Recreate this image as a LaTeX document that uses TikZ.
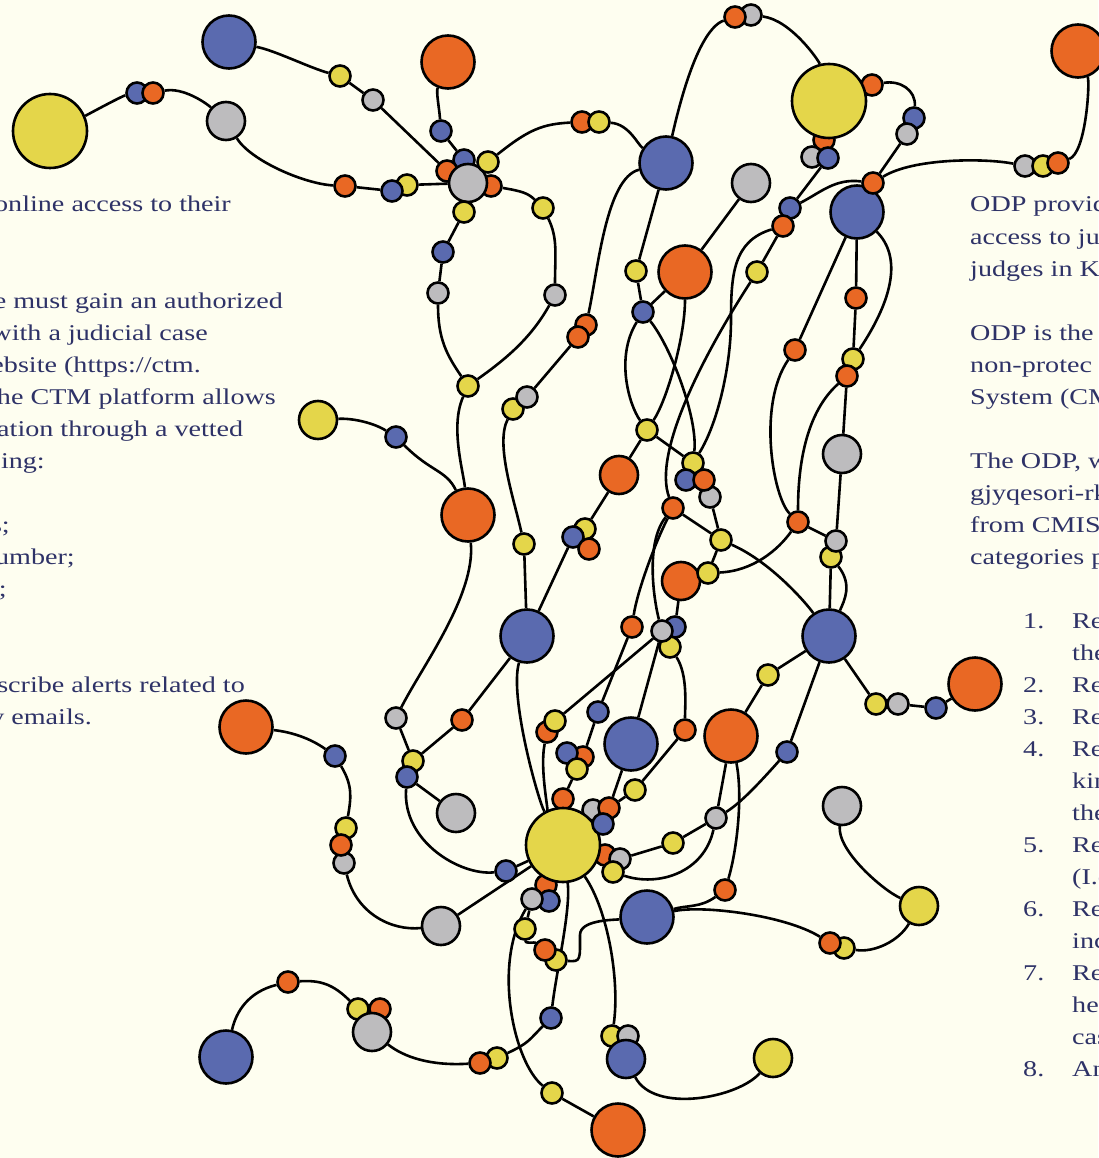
\documentclass[tikz,border=0pt]{standalone}
\usepackage{fontspec}
\setmainfont{Liberation Serif}[FakeStretch=1.25]
\definecolor{bgc}{HTML}{FEFEF0}
\definecolor{cblue}{HTML}{5A6AAF}
\definecolor{corange}{HTML}{E96824}
\definecolor{cyellow}{HTML}{E4D64A}
\definecolor{cgray}{HTML}{BDBCBE}
\definecolor{ctext}{HTML}{2E3267}
\pgfdeclarelayer{bgl}
\pgfsetlayers{bgl,main}
\begin{document}
\begin{tikzpicture}[x=1pt,y=-1pt,
 nd/.style={circle,draw=black,line width=2.6pt,inner sep=0pt},
 sS/.style={nd,minimum size=21pt},
 sM/.style={nd,minimum size=38pt},
 sL/.style={nd,minimum size=53pt},
 sH/.style={nd,minimum size=74pt},
 cB/.style={fill=cblue}, cO/.style={fill=corange},
 cY/.style={fill=cyellow}, cG/.style={fill=cgray},
 ed/.style={draw=black,line width=2.6pt},
 tl/.style={font=\fontsize{22.5}{32}\selectfont,text=ctext,inner sep=0pt}]
\useasboundingbox (0,0) rectangle (1098,1158);
% ---------------- nodes
\node[sH,cY] (Y1) at (50,131) {};
\node[sS,cB] (b1) at (137,93) {};
\node[sS,cO] (o1) at (153,93) {};
\node[sL,cB] (B1) at (229,42) {};
\node[sM,cG] (G1) at (226,121) {};
\node[sS,cY] (y1) at (340,76) {};
\node[sS,cG] (g1) at (373,100) {};
\node[sL,cO] (O1) at (448,62) {};
\node[sS,cB] (b2) at (441,131) {};
\node[sS,cB] (b3) at (464,160) {};
\node[sS,cO] (o2) at (447,171) {};
\node[sS,cO] (o3) at (491,186) {};
\node[sM,cG] (G2) at (468,183) {};
\node[sS,cY] (y2) at (488,162) {};
\node[sS,cY] (y3) at (464,212) {};
\node[sS,cB] (b4) at (443,252) {};
\node[sS,cG] (g2) at (438,293) {};
\node[sS,cO] (o4) at (345,186) {};
\node[sS,cY] (y4) at (407,185) {};
\node[sS,cB] (b5) at (392,191) {};
\node[sS,cY] (y5) at (543,208) {};
\node[sS,cG] (g3) at (555,295) {};
\node[sS,cO] (o5) at (582,122) {};
\node[sS,cY] (y6) at (599,122) {};
\node[sL,cB] (B2) at (666,163) {};
\node[sS,cG] (g4) at (751,15) {};
\node[sS,cO] (o6) at (735,17) {};
\node[sS,cO] (o8) at (824,140) {};
\node[sS,cO] (o7) at (872,85) {};
\node[sH,cY] (Y2) at (829,101) {};
\node[sS,cG] (g5) at (812,157) {};
\node[sS,cB] (b6) at (828,158) {};
\node[sS,cB] (b7) at (914,118) {};
\node[sS,cG] (g6) at (907,134) {};
\node[sM,cG] (G3) at (751,183) {};
\node[sS,cG] (g7) at (1025,166) {};
\node[sS,cY] (y7) at (1043,166) {};
\node[sS,cO] (o9) at (1058,163) {};
\node[sL,cO] (O2) at (1078,51) {};
\node[sL,cB] (B3) at (857,212) {};
\node[sS,cO] (o10) at (873,183) {};
\node[sS,cB] (b8) at (790,208) {};
\node[sS,cO] (o11) at (783,226) {};
\node[sS,cY] (y8) at (757,272) {};
\node[sL,cO] (O3) at (685,272) {};
\node[sS,cY] (y9) at (636,271) {};
\node[sS,cB] (b9) at (643,312) {};
\node[sS,cO] (o12) at (856,298) {};
\node[sS,cO] (o13) at (795,350) {};
\node[sS,cY] (y10) at (853,359) {};
\node[sS,cO] (o14) at (847,376) {};
\node[sS,cO] (o15) at (586,325) {};
\node[sS,cO] (o16) at (578,337) {};
\node[sS,cY] (y11) at (513,409) {};
\node[sS,cG] (g8) at (527,397) {};
\node[sS,cY] (y12) at (468,386) {};
\node[sM,cY] (Y3) at (318,420) {};
\node[sS,cB] (b10) at (396,437) {};
\node[sS,cY] (y13) at (647,430) {};
\node[sM,cO] (O4) at (619,475) {};
\node[sM,cG] (G4) at (842,454) {};
\node[sS,cY] (y14) at (693,463) {};
\node[sS,cG] (g9) at (710,497) {};
\node[sS,cB] (b11) at (686,480) {};
\node[sS,cO] (o17) at (704,480) {};
\node[sL,cO] (O5) at (468,515) {};
\node[sS,cO] (o18) at (673,508) {};
\node[sS,cY] (y15) at (721,540) {};
\node[sS,cO] (o19) at (798,522) {};
\node[sS,cY] (y16) at (831,557) {};
\node[sS,cG] (g10) at (836,541) {};
\node[sS,cY] (y17) at (524,544) {};
\node[sS,cY] (y18) at (585,529) {};
\node[sS,cB] (b12) at (573,537) {};
\node[sS,cO] (o20) at (589,549) {};
\node[sM,cO] (O6) at (681,581) {};
\node[sS,cY] (y19) at (708,573) {};
\node[sL,cB] (B4) at (527,636) {};
\node[sL,cB] (B5) at (829,636) {};
\node[sS,cO] (o21) at (632,627) {};
\node[sS,cB] (b13) at (675,627) {};
\node[sS,cY] (y20) at (670,647) {};
\node[sS,cG] (g11) at (662,631) {};
\node[sS,cY] (y21) at (768,675) {};
\node[sS,cY] (y22) at (876,704) {};
\node[sS,cG] (g12) at (898,704) {};
\node[sS,cB] (b14) at (936,708) {};
\node[sL,cO] (O7) at (975,684) {};
\node[sL,cO] (O8) at (246,727) {};
\node[sS,cB] (b15) at (335,756) {};
\node[sS,cG] (g13) at (396,718) {};
\node[sS,cO] (o22) at (462,720) {};
\node[sS,cO] (o23) at (547,732) {};
\node[sS,cY] (y23) at (555,721) {};
\node[sS,cB] (b16) at (598,712) {};
\node[sL,cB] (B6) at (631,744) {};
\node[sL,cO] (O9) at (731,736) {};
\node[sS,cO] (o24) at (685,730) {};
\node[sS,cY] (y24) at (413,761) {};
\node[sS,cB] (b17) at (407,777) {};
\node[sS,cO] (o25) at (583,757) {};
\node[sS,cB] (b18) at (567,753) {};
\node[sS,cY] (y25) at (577,769) {};
\node[sS,cB] (b19) at (787,752) {};
\node[sS,cG] (g14) at (344,863) {};
\node[sS,cY] (y26) at (346,828) {};
\node[sS,cO] (o26) at (341,845) {};
\node[sM,cG] (G5) at (456,813) {};
\node[sS,cO] (o27) at (563,799) {};
\node[sS,cG] (g15) at (593,810) {};
\node[sS,cO] (o29) at (605,855) {};
\node[sS,cO] (o30) at (546,885) {};
\node[sH,cY] (Y4) at (563,845) {};
\node[sS,cO] (o28) at (609,808) {};
\node[sS,cB] (b20) at (603,824) {};
\node[sS,cG] (g17) at (620,859) {};
\node[sS,cY] (y29) at (613,872) {};
\node[sS,cB] (b22) at (549,901) {};
\node[sS,cG] (g18) at (532,899) {};
\node[sS,cY] (y27) at (635,790) {};
\node[sM,cG] (G6) at (842,806) {};
\node[sS,cG] (g16) at (716,818) {};
\node[sS,cY] (y28) at (673,843) {};
\node[sS,cB] (b21) at (506,871) {};
\node[sS,cY] (y30) at (525,929) {};
\node[sS,cY] (y31) at (556,960) {};
\node[sS,cO] (o31) at (545,950) {};
\node[sM,cG] (G7) at (441,926) {};
\node[sL,cB] (B7) at (647,917) {};
\node[sS,cO] (o32) at (725,890) {};
\node[sM,cY] (Y5) at (919,906) {};
\node[sS,cY] (y32) at (844,948) {};
\node[sS,cO] (o33) at (830,943) {};
\node[sS,cO] (o34) at (288,982) {};
\node[sS,cY] (y33) at (358,1009) {};
\node[sS,cO] (o35) at (380,1009) {};
\node[sM,cG] (G8) at (372,1032) {};
\node[sL,cB] (B8) at (226,1057) {};
\node[sS,cY] (y34) at (497,1058) {};
\node[sS,cO] (o36) at (480,1063) {};
\node[sS,cB] (b23) at (551,1018) {};
\node[sS,cY] (y35) at (612,1036) {};
\node[sS,cG] (g19) at (628,1036) {};
\node[sM,cB] (B9) at (626,1059) {};
\node[sM,cY] (Y6) at (773,1058) {};
\node[sS,cY] (y36) at (552,1093) {};
\node[sL,cO] (O10) at (618,1130) {};
% ---------------- connectors
\begin{pgfonlayer}{bgl}
\fill[bgc] (0,0) rectangle (1098,1158);
\draw[ed] (Y1) .. controls +(35,-15) and +(-15,3) .. (b1);
\draw[ed] (o1) .. controls +(30,-6) and +(-20,-18) .. (G1);
\draw[ed] (B1) .. controls +(45,8) and +(-30,-8) .. (y1);
\draw[ed] (y1) -- (g1);
\draw[ed] (g1) -- (o2);
\draw[ed] (G1) .. controls +(25,40) and +(-40,-2) .. (o4);
\draw[ed] (o4) -- (b5);
\draw[ed] (y4) -- (G2);
\draw[ed] (O1) .. controls +(-12,30) and +(-2,-25) .. (b2);
\draw[ed] (b2) -- (b3);
\draw[ed] (y2) .. controls +(40,-32) and +(-40,2) .. (o5);
\draw[ed] (y6) .. controls +(30,2) and +(-28,-18) .. (B2);
\draw[ed] (o3) .. controls +(30,5) and +(-15,-15) .. (y5);
\draw[ed] (y5) .. controls +(15,30) and +(0,-40) .. (g3);
\draw[ed] (G2) -- (y3) -- (b4) -- (g2);
\draw[ed] (g2) .. controls +(0,45) and +(-22,-32) .. (y12);
\draw[ed] (g3) .. controls +(-25,45) and +(35,-25) .. (y12);
\draw[ed] (y12) .. controls +(-18,40) and +(-5,-45) .. (O5);
\draw[ed] (Y3) .. controls +(35,-2) and +(-22,-14) .. (b10);
\draw[ed] (b10) .. controls +(35,35) and +(-22,-45) .. (O5);
\draw[ed] (O5) .. controls +(8,80) and +(25,-50) .. (g13);
\draw[ed] (g13) -- (y24);
\draw[ed] (b17) -- (G5);
\draw[ed] (b17) .. controls +(-5,65) and +(-45,5) .. (b21);
\draw[ed] (b21) -- (Y4);
\draw[ed] (y24) -- (o22) -- (B4);
\draw[ed] (B4) .. controls +(-18,60) and +(-25,-45) .. (Y4);
\draw[ed] (y17) -- (B4);
\draw[ed] (B2) .. controls +(-60,15) and +(12,-55) .. (o15);
\draw[ed] (o16) -- (g8);
\draw[ed] (y11) .. controls +(-18,35) and +(-10,-45) .. (y17);
\draw[ed] (B2) -- (y9) -- (b9);
\draw[ed] (O3) -- (b9);
\draw[ed] (O3) -- (G3);
\draw[ed] (b9) .. controls +(-28,45) and +(-18,-25) .. (y13);
\draw[ed] (b9) .. controls +(28,35) and +(5,-45) .. (y14);
\draw[ed] (O3) .. controls +(0,65) and +(20,-30) .. (y13);
\draw[ed] (y13) -- (O4);
\draw[ed] (y13) -- (y14);
\draw[ed] (O4) -- (y18);
\draw[ed] (b12) -- (B4);
\draw[ed] (B2) .. controls +(25,-110) and +(-25,8) .. (o6);
\draw[ed] (g4) .. controls +(40,5) and +(-10,-40) .. (Y2);
\draw[ed] (o7) .. controls +(28,-5) and +(2,-28) .. (b7);
\draw[ed] (g6) -- (o10);
\draw[ed] (o8) -- (b6);
\draw[ed] (b6) -- (b8);
\draw[ed] (b8) .. controls +(30,-15) and +(-38,-5) .. (o10);
\draw[ed] (o10) .. controls +(40,-25) and +(-40,-8) .. (g7);
\draw[ed] (o9) .. controls +(28,-10) and +(12,32) .. (O2);
\draw[ed] (b8) -- (o11) -- (y8);
\draw[ed] (o11) .. controls +(-50,15) and +(0,-45) .. (731,320) .. controls +(0,45) and +(25,-40) .. (y14);
\draw[ed] (y8) .. controls +(-55,85) and +(-20,-55) .. (o18);
\draw[ed] (o18) -- (y15);
\draw[ed] (o18) .. controls +(-18,35) and +(5,-35) .. (o21);
\draw[ed] (o18) .. controls +(-28,35) and +(-8,-30) .. (g11);
\draw[ed] (g9) -- (y15) -- (y19);
\draw[ed] (y15) .. controls +(50,22) and +(-22,-32) .. (B5);
\draw[ed] (y19) .. controls +(45,-2) and +(-20,28) .. (o19);
\draw[ed] (O6) -- (b13);
\draw[ed] (o13) .. controls +(-38,55) and +(-25,-25) .. (o19);
\draw[ed] (o14) .. controls +(-45,40) and +(0,-45) .. (o19);
\draw[ed] (o19) -- (g10);
\draw[ed] (B3) -- (o12) -- (y10);
\draw[ed] (o14) -- (G4) -- (g10);
\draw[ed] (y16) -- (B5);
\draw[ed] (B3) .. controls +(45,45) and +(40,-60) .. (y10);
\draw[ed] (y16) .. controls +(22,28) and +(15,-35) .. (B5);
\draw[ed] (B3) -- (o13);
\draw[ed] (B5) -- (y21) -- (O9);
\draw[ed] (B5) -- (b19);
\draw[ed] (b19) .. controls +(-25,28) and +(25,-15) .. (g16);
\draw[ed] (O9) -- (g16);
\draw[ed] (O9) .. controls +(12,60) and +(12,-40) .. (o32);
\draw[ed] (o32) .. controls +(-25,18) and +(40,-12) .. (B7);
\draw[ed] (B5) -- (y22) -- (g12) -- (b14) -- (O7);
\draw[ed] (G6) .. controls +(-5,45) and +(-35,-15) .. (Y5);
\draw[ed] (Y5) .. controls +(-20,35) and +(30,5) .. (y32);
\draw[ed] (o33) .. controls +(-45,-28) and +(55,-12) .. (B7);
\draw[ed] (y20) .. controls +(18,28) and +(0,-25) .. (o24);
\draw[ed] (g11) -- (B6);
\draw[ed] (g11) -- (y23);
\draw[ed] (o21) -- (b16) -- (o25);
\draw[ed] (y25) -- (o27);
\draw[ed] (o23) .. controls +(-8,40) and +(-12,-25) .. (Y4);
\draw[ed] (B6) -- (o28);
\draw[ed] (o24) -- (y27) -- (o28);
\draw[ed] (g16) -- (y28) -- (g17);
\draw[ed] (g16) .. controls +(-12,55) and +(45,15) .. (y29);
\draw[ed] (O8) .. controls +(45,5) and +(-25,-18) .. (b15);
\draw[ed] (b15) .. controls +(18,30) and +(5,-30) .. (y26);
\draw[ed] (g14) .. controls +(12,50) and +(-50,5) .. (G7);
\draw[ed] (G7) -- (Y4);
\draw[ed] (Y4) -- (g18);
\draw[ed] (g18) -- (y30);
\draw[ed] (y30) .. controls +(0,15) and +(-10,-8) .. (o31);
\draw[ed] (y31) .. controls +(25,2) and +(0,25) .. (580,935) .. controls +(0,-15) and +(-35,3) .. (B7);
\draw[ed] (Y4) .. controls +(8,65) and +(5,-45) .. (b23);
\draw[ed] (b23) .. controls +(-22,22) and +(32,-15) .. (y34);
\draw[ed] (o36) .. controls +(-50,3) and +(32,25) .. (G8);
\draw[ed] (y33) .. controls +(-25,-25) and +(32,-2) .. (o34);
\draw[ed] (o34) .. controls +(-40,10) and +(10,-45) .. (B8);
\draw[ed] (Y4) .. controls +(45,65) and +(8,-55) .. (y35);
\draw[ed] (B9) .. controls +(28,55) and +(-35,40) .. (Y6);
\draw[ed] (g18) .. controls +(-40,65) and +(-38,-30) .. (y36);
\draw[ed] (y36) -- (O10);
\end{pgfonlayer}
% ---------------- text, left column
\node[tl,anchor=base east] (t1) at (231,212) {online access to their};
\node[tl,anchor=base east] (t2) at (283,308) {e must gain an authorized};
\node[tl,anchor=base east] (t3) at (208,340) {with a judicial case};
\node[tl,anchor=base east] (t4) at (201,372) {ebsite (https://ctm.};
\node[tl,anchor=base east] (t5) at (276,404) {the CTM platform allows};
\node[tl,anchor=base west] (t6) at (-3,436) {ation through a vetted};
\node[tl,anchor=base east] (t7) at (45,468) {ing:};
\node[tl,anchor=base east] (t8) at (10,532) {s;};
\node[tl,anchor=base east] (t9) at (75,564) {umber;};
\node[tl,anchor=base east] (t10) at (7,596) {;};
\node[tl,anchor=base east] (t11) at (245,692) {scribe alerts related to};
\node[tl,anchor=base east] (t12) at (92,724) {y emails.};
% ---------------- text, right column
\node[tl,anchor=base west] (r1) at (970,212) {ODP provid};
\node[tl,anchor=base west] (r2) at (970,244) {access to ju};
\node[tl,anchor=base west] (r3) at (970,276) {judges in Ko};
\node[tl,anchor=base west] (r4) at (970,340) {ODP is the};
\node[tl,anchor=base west] (r5) at (970,372) {non-protec};
\node[tl,anchor=base west] (r6) at (970,404) {System (CM};
\node[tl,anchor=base west] (r7) at (970,468) {The ODP, w};
\node[tl,anchor=base west] (r8) at (970,500) {gjyqesori-rk};
\node[tl,anchor=base west] (r9) at (970,532) {from CMIS};
\node[tl,anchor=base west] (r10) at (970,564) {categories p};
\node[tl,anchor=base west] (n1) at (1023,628) {1.};
\node[tl,anchor=base west] (n2) at (1023,692) {2.};
\node[tl,anchor=base west] (n3) at (1023,724) {3.};
\node[tl,anchor=base west] (n4) at (1023,756) {4.};
\node[tl,anchor=base west] (n5) at (1023,852) {5.};
\node[tl,anchor=base west] (n6) at (1023,916) {6.};
\node[tl,anchor=base west] (n7) at (1023,980) {7.};
\node[tl,anchor=base west] (n8) at (1023,1076) {8.};
\node[tl,anchor=base west] (l1) at (1072,628) {Re};
\node[tl,anchor=base west] (l2) at (1072,660) {the};
\node[tl,anchor=base west] (l3) at (1072,692) {Re};
\node[tl,anchor=base west] (l4) at (1072,724) {Re};
\node[tl,anchor=base west] (l5) at (1072,756) {Re};
\node[tl,anchor=base west] (l6) at (1072,788) {kin};
\node[tl,anchor=base west] (l7) at (1072,820) {the};
\node[tl,anchor=base west] (l8) at (1072,852) {Re};
\node[tl,anchor=base west] (l9) at (1072,884) {(I.e};
\node[tl,anchor=base west] (l10) at (1072,916) {Re};
\node[tl,anchor=base west] (l11) at (1072,948) {inc};
\node[tl,anchor=base west] (l12) at (1072,980) {Re};
\node[tl,anchor=base west] (l13) at (1072,1012) {he};
\node[tl,anchor=base west] (l14) at (1072,1044) {cas};
\node[tl,anchor=base west] (l15) at (1072,1076) {An};
\end{tikzpicture}
\end{document}
